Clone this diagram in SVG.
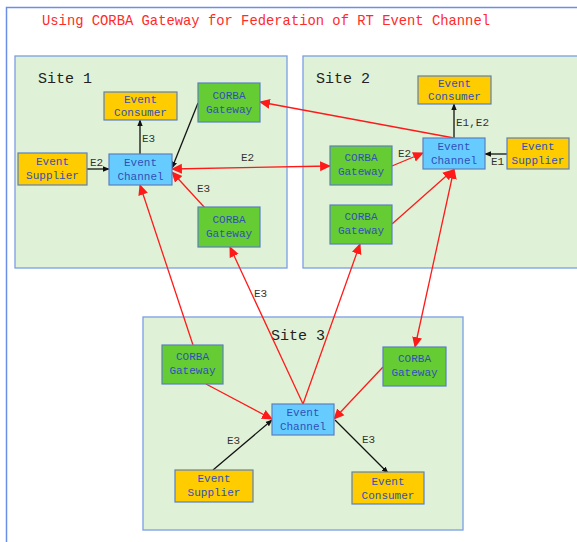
<svg xmlns="http://www.w3.org/2000/svg" width="577" height="542" viewBox="0 0 577 542">
<defs>
<style>
.site{fill:#dff2d8;stroke:#7a9ee6;stroke-width:1.3}
.sitelbl{font-family:"Liberation Mono",monospace;font-size:15px;fill:#222}
.node rect{stroke:#5b7fbf;stroke-width:1.2}
.cons rect,.sup rect{fill:#ffcc00}
.gw rect{fill:#66cc33}
.ch rect{fill:#66ccff}
.node text{font-family:"Liberation Mono",monospace;font-size:11px;fill:#3050b8;text-anchor:middle}
.lbl{font-family:"Liberation Mono",monospace;font-size:11px;fill:#333}
.bk{stroke:#111;stroke-width:1.3;fill:none}
.rd{stroke:#ff1a1a;stroke-width:1.3;fill:none}
</style>
<marker id="ab" viewBox="0 0 10 10" refX="9" refY="5" markerWidth="7" markerHeight="7" markerUnits="userSpaceOnUse" orient="auto-start-reverse"><path d="M0,1 L10,5 L0,9 z" fill="#111"/></marker>
<marker id="ar" viewBox="0 0 10 10" refX="9" refY="5" markerWidth="11" markerHeight="11" markerUnits="userSpaceOnUse" orient="auto-start-reverse"><path d="M0,0.5 L10,5 L0,9.5 z" fill="#ff1a1a"/></marker>
</defs>
<rect width="577" height="542" fill="#fff"/>
<rect x="6.5" y="7.5" width="600" height="560" fill="none" stroke="#6b8fe6" stroke-width="1.5"/>
<text x="42" y="25" textLength="448" lengthAdjust="spacingAndGlyphs" font-family="Liberation Mono,monospace" font-size="15" fill="#ff2a2a">Using CORBA Gateway for Federation of RT Event Channel</text>

<g id="site1"><rect class="site" x="15" y="56" width="272" height="212"/><text class="sitelbl" x="38" y="83">Site 1</text></g>
<g id="site2"><rect class="site" x="303" y="56" width="290" height="212"/><text class="sitelbl" x="316" y="83">Site 2</text></g>
<g id="site3"><rect class="site" x="143" y="317" width="320" height="213"/><text class="sitelbl" x="271" y="340">Site 3</text></g>

<g id="connectors">
<line class="bk" x1="87" y1="169" x2="109" y2="169" marker-end="url(#ab)"/>
<line class="bk" x1="140" y1="154" x2="140" y2="120" marker-end="url(#ab)"/>
<line class="bk" x1="198" y1="103" x2="172" y2="168" marker-end="url(#ab)"/>
<line class="bk" x1="454" y1="138" x2="454" y2="104" marker-end="url(#ab)"/>
<line class="bk" x1="507" y1="154" x2="485" y2="154" marker-end="url(#ab)"/>
<line class="bk" x1="213" y1="470" x2="272" y2="420" marker-end="url(#ab)"/>
<line class="bk" x1="335" y1="420" x2="388" y2="473" marker-end="url(#ab)"/>
<line class="rd" x1="454" y1="138" x2="260" y2="102" marker-end="url(#ar)"/>
<line class="rd" x1="172" y1="169" x2="330" y2="166" marker-start="url(#ar)" marker-end="url(#ar)"/>
<line class="rd" x1="205" y1="208" x2="172" y2="172" marker-end="url(#ar)"/>
<line class="rd" x1="193" y1="345" x2="140" y2="185" marker-end="url(#ar)"/>
<line class="rd" x1="303" y1="404" x2="230" y2="247" marker-end="url(#ar)"/>
<line class="rd" x1="303" y1="404" x2="360" y2="244" marker-end="url(#ar)"/>
<line class="rd" x1="392" y1="224" x2="453" y2="170" marker-end="url(#ar)"/>
<line class="rd" x1="392" y1="166" x2="423" y2="153" marker-end="url(#ar)"/>
<line class="rd" x1="454" y1="169" x2="415" y2="347" marker-start="url(#ar)" marker-end="url(#ar)"/>
<line class="rd" x1="206" y1="384" x2="272" y2="419" marker-end="url(#ar)"/>
<line class="rd" x1="383" y1="367" x2="334" y2="419" marker-end="url(#ar)"/>
<text class="lbl" x="142" y="142">E3</text>
<text class="lbl" x="90" y="166">E2</text>
<text class="lbl" x="241" y="161">E2</text>
<text class="lbl" x="197" y="192">E3</text>
<text class="lbl" x="456" y="126">E1,E2</text>
<text class="lbl" x="398" y="157">E2</text>
<text class="lbl" x="491" y="165">E1</text>
<text class="lbl" x="254" y="297">E3</text>
<text class="lbl" x="227" y="444">E3</text>
<text class="lbl" x="362" y="443">E3</text>
</g>

<g id="s1-consumer" class="node cons"><rect x="104" y="92" width="73" height="28"/><text x="140.5" y="103">Event</text><text x="140.5" y="116">Consumer</text></g>
<g id="s1-gw1" class="node gw"><rect x="198" y="83" width="62" height="39"/><text x="229" y="99">CORBA</text><text x="229" y="113">Gateway</text></g>
<g id="s1-supplier" class="node sup"><rect x="18" y="153" width="69" height="32"/><text x="52.5" y="165">Event</text><text x="52.5" y="179">Supplier</text></g>
<g id="s1-channel" class="node ch"><rect x="109" y="154" width="63" height="31"/><text x="140.5" y="166">Event</text><text x="140.5" y="180">Channel</text></g>
<g id="s1-gw2" class="node gw"><rect x="198" y="207" width="62" height="40"/><text x="229" y="223">CORBA</text><text x="229" y="237">Gateway</text></g>

<g id="s2-consumer" class="node cons"><rect x="418" y="76" width="73" height="28"/><text x="454.5" y="87">Event</text><text x="454.5" y="100">Consumer</text></g>
<g id="s2-gw1" class="node gw"><rect x="330" y="146" width="62" height="39"/><text x="361" y="161">CORBA</text><text x="361" y="175">Gateway</text></g>
<g id="s2-channel" class="node ch"><rect x="423" y="138" width="62" height="31"/><text x="454" y="150">Event</text><text x="454" y="164">Channel</text></g>
<g id="s2-supplier" class="node sup"><rect x="507" y="138" width="62" height="31"/><text x="538" y="150">Event</text><text x="538" y="164">Supplier</text></g>
<g id="s2-gw2" class="node gw"><rect x="330" y="205" width="62" height="39"/><text x="361" y="220">CORBA</text><text x="361" y="234">Gateway</text></g>

<g id="s3-gw1" class="node gw"><rect x="162" y="345" width="61" height="39"/><text x="192.5" y="360">CORBA</text><text x="192.5" y="374">Gateway</text></g>
<g id="s3-gw2" class="node gw"><rect x="383" y="347" width="63" height="39"/><text x="414.5" y="362">CORBA</text><text x="414.5" y="376">Gateway</text></g>
<g id="s3-channel" class="node ch"><rect x="272" y="404" width="62" height="31"/><text x="303" y="416">Event</text><text x="303" y="430">Channel</text></g>
<g id="s3-supplier" class="node sup"><rect x="175" y="470" width="78" height="32"/><text x="214" y="482">Event</text><text x="214" y="496">Supplier</text></g>
<g id="s3-consumer" class="node cons"><rect x="352" y="472" width="72" height="32"/><text x="388" y="485">Event</text><text x="388" y="499">Consumer</text></g>
</svg>
